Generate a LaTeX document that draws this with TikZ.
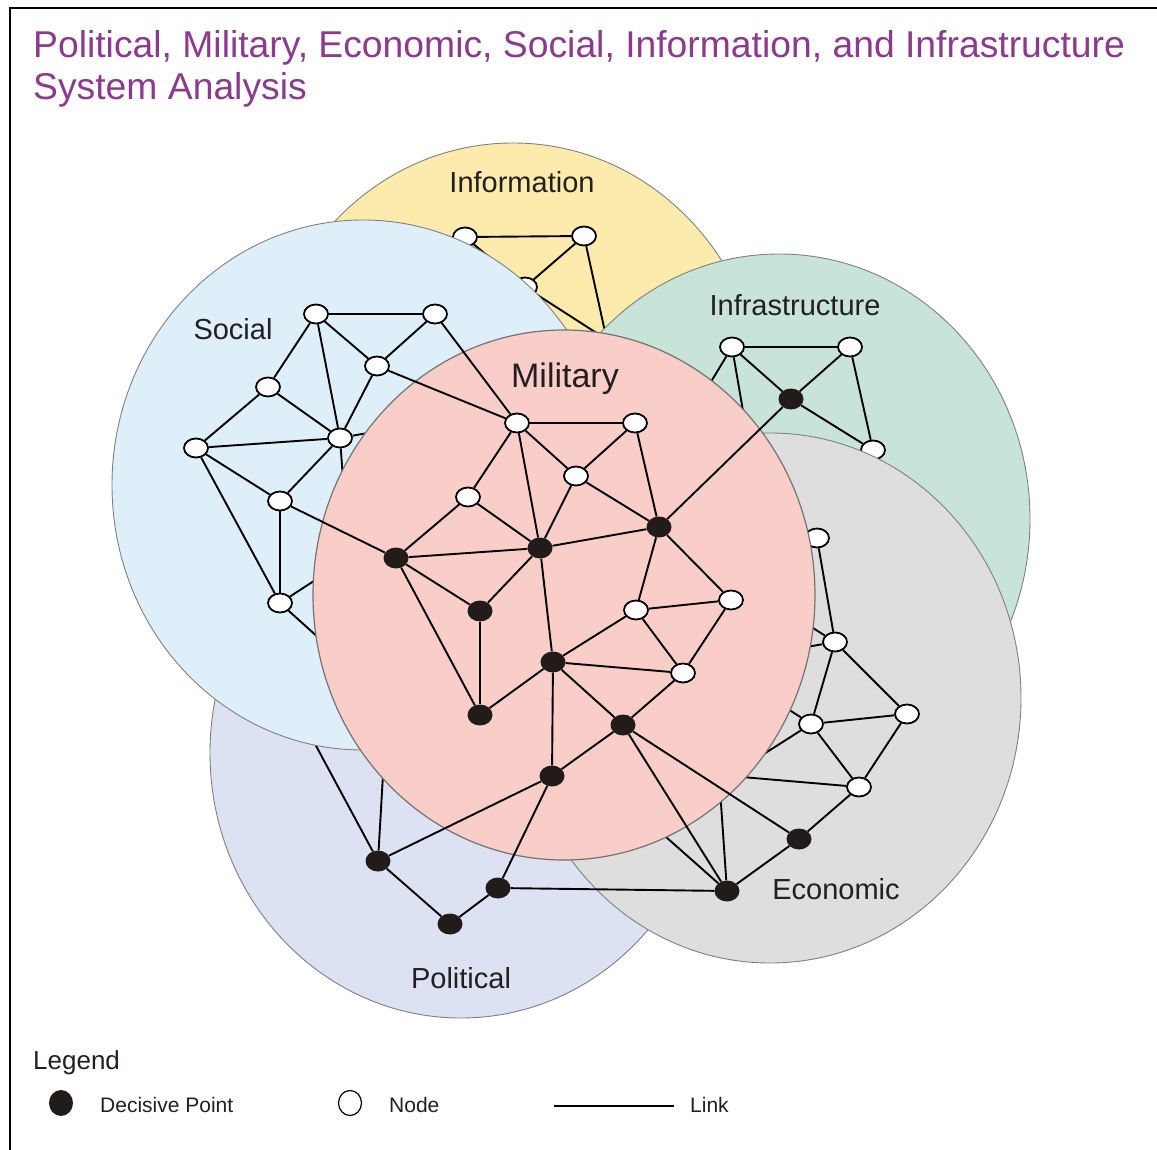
\documentclass[tikz,border=0pt]{standalone}
\usepackage{fontspec}
\setmainfont{Liberation Sans}
\usetikzlibrary{shapes.geometric}
\definecolor{infoc}{HTML}{FDEBAD}
\definecolor{socc}{HTML}{DFEFFA}
\definecolor{infrac}{HTML}{C8E4D9}
\definecolor{econc}{HTML}{DEDEDE}
\definecolor{polc}{HTML}{DDE2F3}
\definecolor{milc}{HTML}{F9CEC8}
\definecolor{dpc}{HTML}{211C1A}
\definecolor{txtc}{HTML}{231F20}
\definecolor{titlec}{HTML}{8B3A8C}
\tikzstyle{zone} = [draw=black!50, line width=0.9pt]
\tikzstyle{wnode} = [ellipse, draw=black, line width=1.8pt, fill=white, minimum width=24pt, minimum height=19pt, inner sep=0pt]
\tikzstyle{dpoint} = [ellipse, fill=dpc, minimum width=25pt, minimum height=21pt, inner sep=0pt]
\tikzstyle{lnk} = [line width=1.9pt]
\tikzstyle{zlabel} = [anchor=base, inner sep=0pt, text=txtc, font=\fontsize{29}{34}\selectfont]
\tikzstyle{legtext} = [anchor=base west, inner sep=0pt, text=txtc, font=\fontsize{21}{25}\selectfont]

\begin{document}
\begin{tikzpicture}[x=1pt, y=-1pt]
    \useasboundingbox (0,0) rectangle (1157,1150);
    \draw[line width=2.2pt] (10,1150) -- (10,8) -- (1157,8);
    \node[anchor=north west, align=left, inner sep=0pt, text=titlec, font=\fontsize{37.3}{42}\selectfont] (title) at (33,30) {Political, Military, Economic, Social, Information, and Infrastructure\\System Analysis};

    % information
    \draw[zone, fill=infoc] (513,408) ellipse [x radius=251pt, y radius=265pt];
    \node[zlabel] (infol) at (522,193) {Information};
    \node[wnode] (i1) at (465,237) {};
    \node[wnode] (i2) at (584,236) {};
    \node[wnode] (i3) at (525,287) {};
    \coordinate (ih1) at (623,350);
    \coordinate (ih2) at (609,350);
    \draw[lnk] (i1) -- (i2);
    \draw[lnk] (i1) -- (i3);
    \draw[lnk] (i2) -- (i3);
    \draw[lnk] (i3) -- (ih1);
    \draw[lnk] (i2) -- (ih2);

    % political
    \draw[zone, fill=polc] (461,753) ellipse [x radius=251pt, y radius=265pt];
    \node[zlabel] (poll) at (461,988) {Political};
    \node[dpoint] (p1) at (378,861) {};
    \node[dpoint] (p2) at (450,924) {};
    \node[dpoint] (p3) at (498,888) {};
    \coordinate (ph1) at (300,716);
    \coordinate (ph2) at (385,740);
    \draw[lnk] (p1) -- (p2);
    \draw[lnk] (p2) -- (p3);
    \draw[lnk] (p1) -- (ph1);
    \draw[lnk] (p1) -- (ph2);

    % infrastructure
    \draw[zone, fill=infrac] (779,519) ellipse [x radius=251pt, y radius=265pt];
    \node[zlabel] (infral) at (795,316) {Infrastructure};
    \node[wnode] (f1) at (732,347) {};
    \node[wnode] (f2) at (850,347) {};
    \node[dpoint] (f3) at (791,399) {};
    \node[wnode] (f4) at (873,450) {};
    \coordinate (fh1) at (700,400);
    \coordinate (fh2) at (748,440);
    \draw[lnk] (f1) -- (f2);
    \draw[lnk] (f1) -- (f3);
    \draw[lnk] (f2) -- (f3);
    \draw[lnk] (f2) -- (f4);
    \draw[lnk] (f3) -- (f4);
    \draw[lnk] (f1) -- (fh1);
    \draw[lnk] (f1) -- (fh2);

    % social
    \draw[zone, fill=socc] (363,485) ellipse [x radius=251pt, y radius=265pt];
    \node[zlabel] (socl) at (233,340) {Social};
    \node[wnode] (s1) at (316,314) {};
    \node[wnode] (s2) at (435,314) {};
    \node[wnode] (s3) at (377,366) {};
    \node[wnode] (s4) at (268,387) {};
    \node[wnode] (s5) at (196,448) {};
    \node[wnode] (s6) at (340,438) {};
    \node[wnode] (s7) at (280,501) {};
    \node[wnode] (s8) at (280,603) {};
    \coordinate (sh1) at (395,428);
    \coordinate (sh2) at (346,520);
    \coordinate (sh3) at (340,564);
    \coordinate (sh4) at (340,657);
    \draw[lnk] (s1) -- (s2);
    \draw[lnk] (s1) -- (s3);
    \draw[lnk] (s2) -- (s3);
    \draw[lnk] (s1) -- (s4);
    \draw[lnk] (s1) -- (s6);
    \draw[lnk] (s3) -- (s6);
    \draw[lnk] (s4) -- (s5);
    \draw[lnk] (s4) -- (s6);
    \draw[lnk] (s5) -- (s6);
    \draw[lnk] (s5) -- (s7);
    \draw[lnk] (s5) -- (s8);
    \draw[lnk] (s6) -- (s7);
    \draw[lnk] (s7) -- (s8);
    \draw[lnk] (s6) -- (sh1);
    \draw[lnk] (s6) -- (sh2);
    \draw[lnk] (s8) -- (sh3);
    \draw[lnk] (s8) -- (sh4);

    % economic
    \draw[zone, fill=econc] (770,698) ellipse [x radius=251pt, y radius=265pt];
    \node[zlabel] (econl) at (836,899) {Economic};
    \node[wnode] (e1) at (817,538) {};
    \node[wnode] (e2) at (835,642) {};
    \node[wnode] (e3) at (811,724) {};
    \node[wnode] (e4) at (907,714) {};
    \node[wnode] (e5) at (859,787) {};
    \node[dpoint] (e6) at (799,839) {};
    \node[dpoint] (e7) at (727,891) {};
    \coordinate (eh1) at (780,607);
    \coordinate (eh2) at (778,652);
    \coordinate (eh3) at (771,698);
    \coordinate (eh4) at (745,766);
    \coordinate (eh5) at (730,776);
    \coordinate (eh6) at (718,760);
    \coordinate (eh7) at (640,814);
    \draw[lnk] (e1) -- (e2);
    \draw[lnk] (e2) -- (e3);
    \draw[lnk] (e2) -- (e4);
    \draw[lnk] (e3) -- (e4);
    \draw[lnk] (e3) -- (e5);
    \draw[lnk] (e4) -- (e5);
    \draw[lnk] (e5) -- (e6);
    \draw[lnk] (e6) -- (e7);
    \draw[lnk] (e2) -- (eh1);
    \draw[lnk] (e2) -- (eh2);
    \draw[lnk] (e3) -- (eh3);
    \draw[lnk] (e3) -- (eh4);
    \draw[lnk] (e5) -- (eh5);
    \draw[lnk] (e7) -- (eh6);
    \draw[lnk] (e7) -- (eh7);

    % military
    \draw[zone, draw=black!55, line width=1.2pt, fill=milc] (564,595) ellipse [x radius=251pt, y radius=265pt];
    \node[zlabel, font=\fontsize{34}{40}\selectfont] (mill) at (565,388) {Military};
    \node[wnode] (m1) at (517,423) {};
    \node[wnode] (m2) at (635,423) {};
    \node[wnode] (m3) at (576,476) {};
    \node[wnode] (m4) at (468,497) {};
    \node[dpoint] (m5) at (659,527) {};
    \node[dpoint] (m6) at (540,548) {};
    \node[dpoint] (m7) at (396,558) {};
    \node[dpoint] (m8) at (480,611) {};
    \node[wnode] (m9) at (636,610) {};
    \node[wnode] (m10) at (731,600) {};
    \node[dpoint] (m11) at (553,662) {};
    \node[wnode] (m12) at (683,673) {};
    \node[dpoint] (m13) at (480,715) {};
    \node[dpoint] (m14) at (623,725) {};
    \node[dpoint] (m15) at (552,776) {};
    \draw[lnk] (m1) -- (m2);
    \draw[lnk] (m1) -- (m3);
    \draw[lnk] (m2) -- (m3);
    \draw[lnk] (m1) -- (m4);
    \draw[lnk] (m1) -- (m6);
    \draw[lnk] (m3) -- (m6);
    \draw[lnk] (m3) -- (m5);
    \draw[lnk] (m2) -- (m5);
    \draw[lnk] (m4) -- (m7);
    \draw[lnk] (m4) -- (m6);
    \draw[lnk] (m7) -- (m6);
    \draw[lnk] (m6) -- (m5);
    \draw[lnk] (m7) -- (m8);
    \draw[lnk] (m7) -- (m13);
    \draw[lnk] (m8) -- (m6);
    \draw[lnk] (m8) -- (m13);
    \draw[lnk] (m6) -- (m11);
    \draw[lnk] (m5) -- (m9);
    \draw[lnk] (m5) -- (m10);
    \draw[lnk] (m9) -- (m10);
    \draw[lnk] (m9) -- (m11);
    \draw[lnk] (m9) -- (m12);
    \draw[lnk] (m10) -- (m12);
    \draw[lnk] (m11) -- (m12);
    \draw[lnk] (m11) -- (m13);
    \draw[lnk] (m11) -- (m14);
    \draw[lnk] (m12) -- (m14);
    \draw[lnk] (m11) -- (m15);
    \draw[lnk] (m14) -- (m15);

    % links between systems
    \draw[lnk] (s7) -- (m7);
    \draw[lnk] (s3) -- (m1);
    \draw[lnk] (s2) -- (m1);
    \draw[lnk] (f3) -- (m5);
    \draw[lnk] (p1) -- (m15);
    \draw[lnk] (p3) -- (m15);
    \draw[lnk] (p3) -- (e7);
    \draw[lnk] (m14) -- (e7);
    \draw[lnk] (m14) -- (e6);

    % legend
    \node[anchor=base west, inner sep=0pt, text=txtc, font=\fontsize{26}{30}\selectfont] (leg) at (33,1069) {Legend};
    \node[dpoint, minimum width=24pt, minimum height=26pt] (legdp) at (61,1103) {};
    \node[legtext] (legdpt) at (100,1112) {Decisive Point};
    \node[wnode, line width=1.2pt, minimum width=23pt, minimum height=25pt] (legnd) at (350,1103) {};
    \node[legtext] (legndt) at (389,1112) {Node};
    \coordinate (lega) at (554,1106);
    \coordinate (legb) at (674,1106);
    \draw[line width=1.5pt] (lega) -- (legb);
    \node[legtext] (leglk) at (690,1112) {Link};
\end{tikzpicture}
\end{document}
